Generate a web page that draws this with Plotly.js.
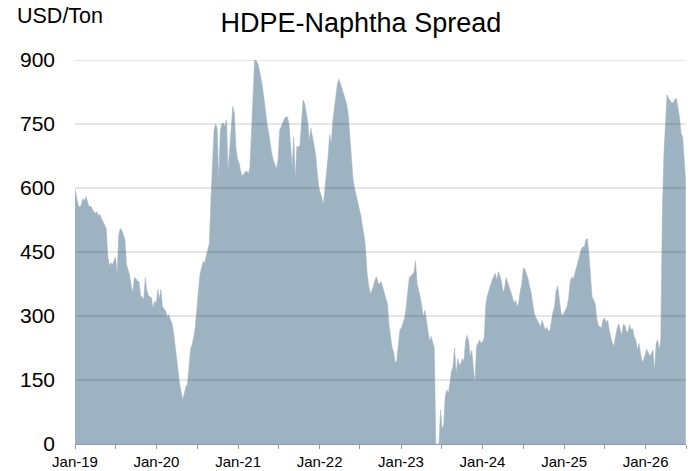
<!DOCTYPE html>
<html>
<head>
<meta charset="utf-8">
<script src="https://cdn.plot.ly/plotly-3.0.1.min.js"></script>
<style>html,body{margin:0;padding:0;background:#fff;}#chart{width:694px;height:471px;}</style>
</head>
<body>
<div id="chart"></div>
<script>
// Weekly HDPE-Naphtha spread (USD/Ton), starting 2019-01-01
var startDate = '2019-01-01';
var stepDays = 7;
var spread = [
598, 580, 560, 555, 560, 575, 570, 580, 568, 556,
558, 550, 545, 540, 545, 535, 538, 528, 520, 512,
505, 440, 418, 425, 420, 430, 438, 395, 490, 505,
500, 490, 478, 420, 405, 395, 370, 355, 390, 388,
382, 380, 348, 345, 340, 390, 360, 348, 345, 342,
318, 335, 330, 362, 340, 362, 322, 318, 312, 298,
303, 292, 284, 265, 230, 205, 160, 140, 122, 103,
119, 134, 140, 180, 222, 234, 250, 275, 320, 365,
398, 412, 428, 425, 440, 455, 470, 570, 650, 735,
750, 740, 620, 735, 750, 752, 745, 760, 640, 690,
760, 791, 775, 695, 668, 660, 640, 628, 632, 638,
640, 632, 650, 740, 800, 900, 898, 892, 877, 860,
838, 810, 772, 748, 730, 700, 680, 665, 655, 645,
666, 736, 744, 755, 762, 767, 766, 750, 700, 650,
720, 620, 697, 696, 700, 759, 806, 798, 770, 755,
710, 740, 720, 700, 680, 640, 605, 588, 578, 560,
595, 634, 673, 725, 705, 755, 785, 815, 845, 855,
845, 832, 820, 806, 795, 770, 720, 673, 620, 598,
582, 566, 552, 535, 510, 490, 460, 400, 372, 352,
360, 369, 384, 392, 377, 375, 380, 370, 355, 340,
330, 280, 245, 226, 215, 189, 197, 236, 267, 273,
283, 295, 320, 365, 390, 394, 398, 402, 430, 375,
360, 345, 322, 298, 314, 285, 270, 240, 252, 238,
225, 0, 0, 0, 80, 35, 45, 111, 127, 119,
142, 170, 181, 225, 165, 200, 185, 189, 200, 195,
240, 255, 240, 205, 220, 173, 142, 228, 236, 244,
236, 240, 250, 328, 348, 362, 370, 384, 392, 400,
385, 404, 395, 380, 355, 365, 390, 380, 370, 360,
345, 330, 337, 322, 330, 358, 375, 412, 410, 398,
388, 370, 355, 330, 305, 297, 290, 283, 275, 290,
277, 268, 273, 265, 266, 290, 310, 322, 360, 370,
340, 312, 300, 306, 314, 322, 342, 380, 392, 386,
400, 418, 430, 445, 455, 462, 462, 478, 482, 445,
395, 345, 337, 330, 295, 278, 275, 272, 290, 295,
285, 290, 267, 251, 236, 230, 251, 270, 282, 265,
255, 280, 278, 265, 262, 280, 268, 270, 251, 244,
220, 236, 212, 192, 197, 212, 222, 214, 206, 212,
220, 170, 236, 244, 220, 244, 540, 680, 760, 818,
810, 806, 800, 800, 808, 810, 790, 765, 728, 720,
666, 610
];
var yTicks = [0, 150, 300, 450, 600, 750, 900];
var yTickLabels = ['0', '150', '300', '450', '600', '750', '900'];
var xRange = ['2019-01-01', '2026-07-01'];
var titleText = 'HDPE-Naphtha Spread';
var unitText = 'USD/Ton';

var FONT = 'Liberation Sans, Arial, Helvetica, sans-serif';
var FILL = '#9eb3c2';

var trace = {
  type: 'scatter',
  mode: 'lines',
  x0: startDate,
  dx: stepDays * 24 * 3600 * 1000,
  y: spread,
  fill: 'tozeroy',
  fillcolor: FILL,
  line: {color: FILL, width: 0.5},
  hoverinfo: 'skip'
};

var shapes = yTicks.filter(function (v) { return v > 0; }).map(function (v) {
  return {
    type: 'line', xref: 'paper', x0: 0, x1: 1, yref: 'y', y0: v, y1: v,
    layer: 'above', line: {color: 'rgba(0,0,0,0.2)', width: 1}
  };
});

var layout = {
  width: 694, height: 471,
  margin: {l: 75, r: 8, t: 60, b: 27},
  paper_bgcolor: '#fff', plot_bgcolor: '#fff',
  font: {family: FONT, color: '#000'},
  showlegend: false,
  title: {
    text: titleText,
    x: 0.52, xanchor: 'center', xref: 'container',
    y: 0.952, yanchor: 'middle', yref: 'container',
    font: {size: 27, family: FONT, color: '#000'}
  },
  xaxis: {
    type: 'date',
    range: xRange,
    tick0: '2019-01-01',
    dtick: 'M12',
    tickformat: '%b-%y',
    ticks: 'outside', ticklen: 4, tickcolor: '#999', tickwidth: 1,
    minor: {dtick: 'M6', tick0: '2019-01-01', ticks: 'outside', ticklen: 4, tickcolor: '#999', tickwidth: 1, showgrid: false},
    showline: true, linecolor: '#999', linewidth: 1,
    showgrid: false, zeroline: false,
    tickfont: {size: 15, family: FONT, color: '#000'},
    fixedrange: true
  },
  yaxis: {
    range: [0, 900],
    tickmode: 'array', tickvals: yTicks, ticktext: yTickLabels,
    ticks: '', showline: false, showgrid: false, zeroline: false,
    ticklabelstandoff: 19,
    tickfont: {size: 21, family: FONT, color: '#000'},
    fixedrange: true
  },
  shapes: shapes,
  annotations: [{
    text: unitText, showarrow: false,
    xref: 'paper', yref: 'paper',
    x: -0.098, xanchor: 'left',
    y: 1.114, yanchor: 'middle',
    font: {size: 21.5, family: FONT, color: '#000'}
  }]
};

Plotly.newPlot('chart', [trace], layout, {displayModeBar: false, staticPlot: true});
</script>
</body>
</html>
